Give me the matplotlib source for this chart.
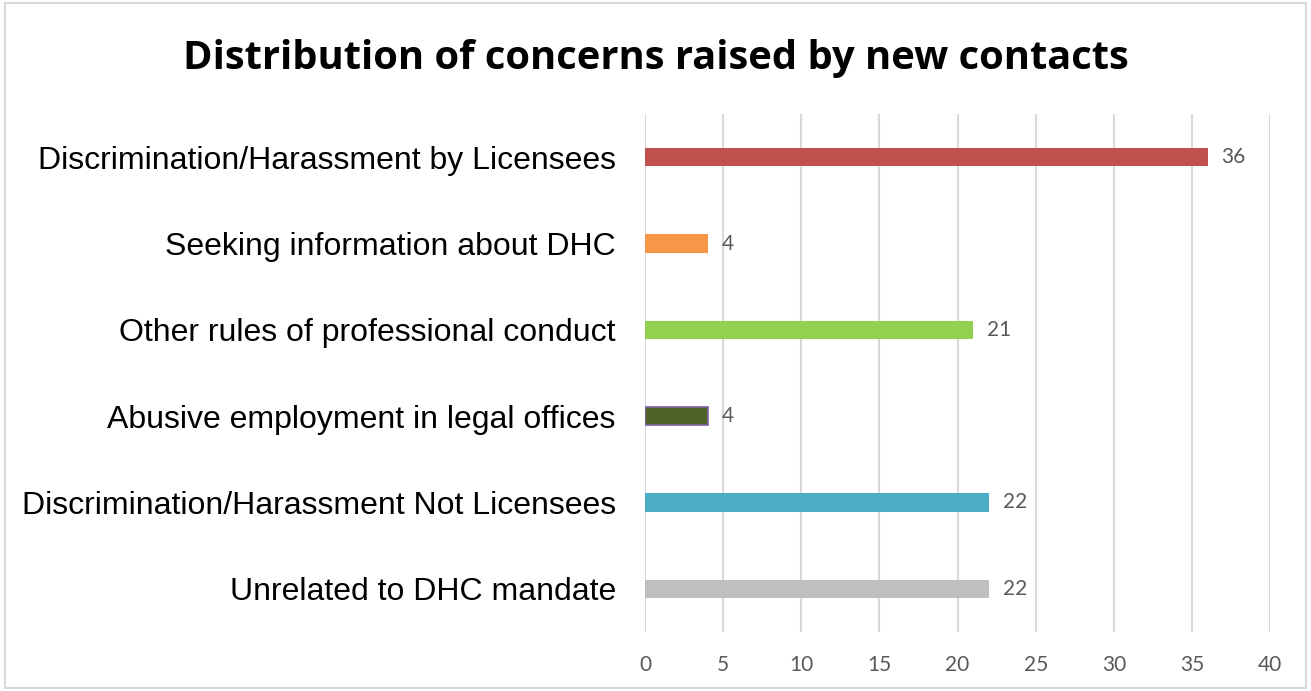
import matplotlib

matplotlib.use("Agg")
import matplotlib.pyplot as plt
from matplotlib.patches import Rectangle

categories = [
    "Discrimination/Harassment by Licensees",
    "Seeking information about DHC",
    "Other rules of professional conduct",
    "Abusive employment in legal offices",
    "Discrimination/Harassment Not Licensees",
    "Unrelated to DHC mandate",
]
counts = [36, 4, 21, 4, 22, 22]
bar_colors = ["#C0504D", "#F79646", "#92D050", "#4F6228", "#4BACC6", "#BFBFBF"]
edge_colors = ["none", "none", "none", "#8064A2", "none", "none"]
x_ticks = [0, 5, 10, 15, 20, 25, 30, 35, 40]

fig = plt.figure(figsize=(13.11, 6.91), dpi=100)
ax = fig.add_axes([0.492, 0.0854, 0.4768, 0.7496])

# light frame around the whole chart area
fig.patches.append(Rectangle((0.004, 0.004), 0.992, 0.992, transform=fig.transFigure,
                             fill=False, edgecolor="#D9D9D9", linewidth=1.5))

y = list(range(len(categories)))[::-1]
bars = ax.barh(y, counts, height=0.21, color=bar_colors, zorder=3)
for bar, ec in zip(bars, edge_colors):
    if ec != "none":
        bar.set_edgecolor(ec)
        bar.set_linewidth(1.2)

for yi, v in zip(y, counts):
    ax.text(v + 0.9, yi, str(v), va="center", ha="left", fontsize=15,
            color="#595959", family="Lato")

ax.set_xlim(0, 40)
ax.set_ylim(-0.5, len(categories) - 0.5)
ax.set_xticks(x_ticks)
ax.set_xticklabels([str(t) for t in x_ticks], fontsize=15, color="#595959", family="Lato")
ax.set_yticks(y)
ax.set_yticklabels(categories, fontsize=23, family="Liberation Sans")
ax.tick_params(axis="both", length=0)
ax.tick_params(axis="x", pad=16.5)
ax.tick_params(axis="y", pad=21)
ax.grid(axis="x", color="#D9D9D9", linewidth=1.5, zorder=0)
for s in ax.spines.values():
    s.set_visible(False)

fig.suptitle("Distribution of concerns raised by new contacts", x=0.5, y=0.944,
             fontsize=28.7, fontweight="bold", family="Open Sans")

fig.savefig("out.png", dpi=100)
